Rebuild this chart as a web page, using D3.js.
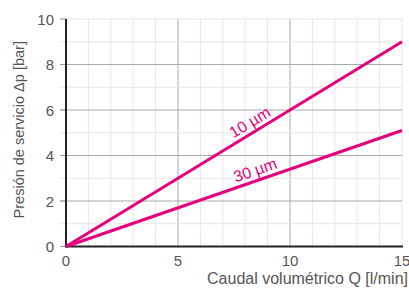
<!DOCTYPE html>
<html>
<head>
<meta charset="utf-8">
<script src="https://cdn.jsdelivr.net/npm/d3@7"></script>
<style>
  body { margin: 0; background: #fff; }
  text { font-family: "Liberation Sans", Arial, sans-serif; fill: #555; }
</style>
</head>
<body>
<div class="root"></div>
<script>
const flowTicks = [0, 5, 10, 15];
const pressureTicks = [0, 2, 4, 6, 8, 10];
const flow = [0, 15];
const p10 = [0, 9.0];
const p30 = [0, 5.1];
const seriesNames = ["10 µm", "30 µm"];

const w = 409;
const h = 288;
const m = { left: 66, right: 7, top: 19, bottom: 41.5 };

const svg = d3.select(".root")
              .append("svg")
              .attr("width", w)
              .attr("height", h);

const xScale = d3.scaleLinear().domain([0, 15]).range([m.left, w - m.right]);
const yScale = d3.scaleLinear().domain([0, 10]).range([h - m.bottom, m.top]);

// minor grid, every unit
const grid = svg.append("g");
grid.selectAll(".vx")
    .data(d3.range(1, 16))
    .enter().append("line")
    .attr("x1", d => xScale(d)).attr("x2", d => xScale(d))
    .attr("y1", yScale(0)).attr("y2", yScale(10))
    .attr("stroke", d => d % 5 === 0 && d < 15 ? "#aaa" : "#e6e6e6")
    .attr("stroke-width", 1);
grid.selectAll(".hy")
    .data(d3.range(1, 11))
    .enter().append("line")
    .attr("x1", xScale(0) - 6).attr("x2", xScale(15))
    .attr("y1", d => yScale(d)).attr("y2", d => yScale(d))
    .attr("stroke", d => d % 2 === 0 && d < 10 ? "#aaa" : "#e6e6e6")
    .attr("stroke-width", 1);
// tick stubs for major y
grid.selectAll(".tk")
    .data(pressureTicks)
    .enter().append("line")
    .attr("x1", xScale(0) - 6).attr("x2", xScale(0))
    .attr("y1", d => yScale(d)).attr("y2", d => yScale(d))
    .attr("stroke", "#999");

// axes
svg.append("line")
   .attr("x1", xScale(0)).attr("x2", xScale(0))
   .attr("y1", yScale(0) + 1).attr("y2", yScale(10))
   .attr("stroke", "#222").attr("stroke-width", 2);
svg.append("line")
   .attr("x1", xScale(0)).attr("x2", xScale(15) + 1)
   .attr("y1", yScale(0)).attr("y2", yScale(0))
   .attr("stroke", "#222").attr("stroke-width", 2);

// tick labels
svg.selectAll(".xl")
   .data(flowTicks)
   .enter().append("text")
   .attr("x", d => xScale(d))
   .attr("y", yScale(0) + 19)
   .attr("text-anchor", "middle")
   .style("font-size", "15px")
   .text(d => d);
svg.selectAll(".yl")
   .data(pressureTicks)
   .enter().append("text")
   .attr("x", xScale(0) - 12)
   .attr("y", d => yScale(d) + 5.5)
   .attr("text-anchor", "end")
   .style("font-size", "15px")
   .text(d => d);

// lines
const line = d3.line().x(d => xScale(d[0])).y(d => yScale(d[1]));
[p10, p30].forEach(vals => {
  svg.append("path")
     .datum(flow.map((f, i) => [f, vals[i]]))
     .attr("d", line)
     .attr("fill", "none")
     .attr("stroke", "#e5007d")
     .attr("stroke-width", 3);
});

// line labels, rotated along each line
function lineLabel(vals, xAt, off, name) {
  const x1 = xScale(flow[0]), y1 = yScale(vals[0]);
  const x2 = xScale(flow[1]), y2 = yScale(vals[1]);
  const ang = Math.atan2(y2 - y1, x2 - x1) * 180 / Math.PI;
  const px = xScale(xAt);
  const py = yScale(vals[0] + (vals[1] - vals[0]) * (xAt - flow[0]) / (flow[1] - flow[0]));
  svg.append("text")
     .attr("transform", "translate(" + px + "," + py + ")rotate(" + ang + ")")
     .attr("y", -off)
     .attr("text-anchor", "middle")
     .style("font-size", "16px")
     .style("fill", "#e5007d")
     .text(name);
}
lineLabel(p10, 8.45, 5, seriesNames[0]);
lineLabel(p30, 8.6, 5, seriesNames[1]);

// axis titles
svg.append("text")
   .attr("x", w - 1)
   .attr("y", h - 4)
   .attr("text-anchor", "end")
   .style("font-size", "16px")
   .text("Caudal volumétrico Q [l/min]");
svg.append("text")
   .attr("text-anchor", "middle")
   .attr("transform", "translate(" + 24 + "," + (yScale(5) - 3) + ")rotate(-90)")
   .style("font-size", "14.5px")
   .text("Presión de servicio Δp [bar]");
</script>
</body>
</html>
